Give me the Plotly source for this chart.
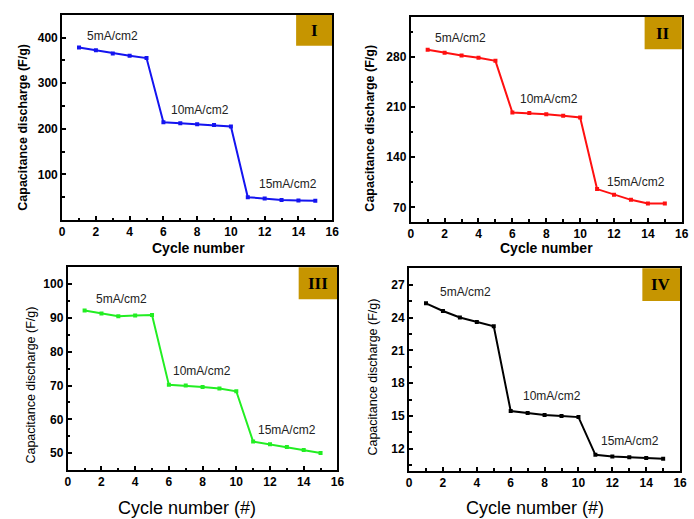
import plotly.graph_objects as go

cycles = list(range(1, 16))

cap_I = [378, 372, 365, 360, 355, 214, 212, 210, 208, 205, 50, 47, 44, 43, 42]
cap_II = [290, 285.6, 282, 278.6, 274.4, 202.4, 201.5, 200, 197.7, 195.5, 95.5, 87.5, 80.5, 75.5, 75.3]
cap_III = [92.2, 91.3, 90.5, 90.7, 90.9, 70.2, 70.0, 69.6, 69.1, 68.3, 53.4, 52.6, 51.8, 50.9, 50.0]
cap_IV = [25.3, 24.6, 24.0, 23.6, 23.2, 15.45, 15.27, 15.1, 15.0, 14.9, 11.45, 11.3, 11.24, 11.15, 11.1]

rate_labels = ["5mA/cm2", "10mA/cm2", "15mA/cm2"]
panel_labels = ["I", "II", "III", "IV"]
colors = ["#1414F0", "#FF1010", "#22EE22", "#000000"]

y_ranges = [[0, 450], [50, 336], [45, 105], [10, 28.5]]
y_ticks = [[100, 200, 300, 400], [70, 140, 210, 280], [50, 60, 70, 80, 90, 100], [12, 15, 18, 21, 24, 27]]
y_minor = [[50, 150, 250, 350], [105, 175, 245, 315], [55, 65, 75, 85, 95], [10.5, 13.5, 16.5, 19.5, 22.5, 25.5]]

# label positions (x, y) in data coords
label_pos = [
    [(1.36, 404), (6.33, 241), (11.56, 80)],
    [(1.32, 306.5), (6.36, 220.6), (11.44, 105.6)],
    [(1.56, 95.7), (6.14, 74.3), (11.17, 56.9)],
    [(1.7, 26.33), (6.6, 16.83), (11.2, 12.7)],
]

W, H = 694, 519
frames = [
    (60, 334, 14.7, 220),
    (413.7, 688.7, 16.7, 221.7),
    (65.7, 339.3, 267.3, 470),
    (412, 687, 268.3, 470.7),
]
badge_w = [36.6, 37.7, 39.3, 38.3]
badge_h = [31, 32.6, 32, 32.7]

series = [cap_I, cap_II, cap_III, cap_IV]

fig = go.Figure()
FONT = "Liberation Sans, Arial, sans-serif"

annotations = []
shapes = []
for i in range(4):
    sfx = "" if i == 0 else str(i + 1)
    xa, ya = "x" + sfx, "y" + sfx
    fig.add_trace(go.Scatter(
        x=cycles, y=series[i], mode="lines+markers",
        line=dict(color=colors[i], width=2),
        marker=dict(symbol="square", size=4, color=colors[i]),
        xaxis=xa, yaxis=ya, showlegend=False,
    ))
    x0, x1, y0, y1 = frames[i]
    common = dict(
        showline=True, linecolor="black", linewidth=2, mirror=True,
        ticks="inside", ticklen=4, tickwidth=2, tickcolor="black",
        showgrid=False, zeroline=False,
        tickfont=dict(family=FONT, size=12, color="black", weight="bold"),
    )
    fig.layout["xaxis" + sfx] = dict(
        domain=[x0 / W, x1 / W], anchor=ya, range=[0, 16],
        tickmode="array", tickvals=list(range(0, 17, 2)),
        minor=dict(tickmode="array", tickvals=list(range(1, 16, 2)), ticks="inside",
                   ticklen=2.5, tickwidth=2, tickcolor="black", showgrid=False),
        **common,
    )
    fig.layout["yaxis" + sfx] = dict(
        domain=[1 - y1 / H, 1 - y0 / H], anchor=xa, range=y_ranges[i],
        tickmode="array", tickvals=y_ticks[i],
        minor=dict(tickmode="array", tickvals=y_minor[i], ticks="inside",
                   ticklen=2.5, tickwidth=2, tickcolor="black", showgrid=False),
        **common,
    )
    for (lx, ly), txt in zip(label_pos[i], rate_labels):
        annotations.append(dict(x=lx, y=ly, xref=xa, yref=ya, text=txt, showarrow=False,
                                xanchor="left", yanchor="middle",
                                font=dict(family=FONT, size=12, color="#222222")))
    bw, bh = badge_w[i], badge_h[i]
    shapes.append(dict(type="rect", xref="paper", yref="paper",
                       x0=(x1 - bw) / W, x1=x1 / W, y0=1 - (y0 + bh) / H, y1=1 - y0 / H,
                       fillcolor="#C69500", line=dict(width=0), layer="below"))
    annotations.append(dict(x=(x1 - bw / 2) / W, y=1 - (y0 + bh / 2) / H, xref="paper", yref="paper",
                            text=panel_labels[i], showarrow=False, xanchor="center", yanchor="middle",
                            font=dict(family="Liberation Serif, DejaVu Serif, serif", size=17,
                                      color="black", weight="bold")))

ytitle_pos = [(20, 127, True), (372, 128, True), (28, 385, False), (375, 377, False)]
for (px, py, bold) in ytitle_pos:
    annotations.append(dict(x=px / W, y=1 - py / H, xref="paper", yref="paper",
                            text="Capacitance discharge (F/g)", textangle=-90, showarrow=False,
                            xanchor="center", yanchor="middle",
                            font=dict(family=FONT, size=12.5, color="black",
                                      weight="bold" if bold else "normal")))
for px in (198, 551.5):
    annotations.append(dict(x=px / W, y=1 - 248 / H, xref="paper", yref="paper",
                            text="Cycle number", showarrow=False, xanchor="center", yanchor="middle",
                            font=dict(family=FONT, size=14, color="black", weight="bold")))
for px in (187, 540):
    annotations.append(dict(x=px / W, y=1 - 508 / H, xref="paper", yref="paper",
                            text="Cycle number (#)", showarrow=False, xanchor="center", yanchor="middle",
                            font=dict(family=FONT, size=18, color="black")))

fig.update_layout(
    width=W, height=H, margin=dict(l=0, r=0, t=0, b=0),
    paper_bgcolor="white", plot_bgcolor="white",
    annotations=annotations, shapes=shapes,
)

fig.write_html("out.html", config={"displayModeBar": False},
               post_script="document.body.style.margin='0';document.body.style.overflow='hidden';")
